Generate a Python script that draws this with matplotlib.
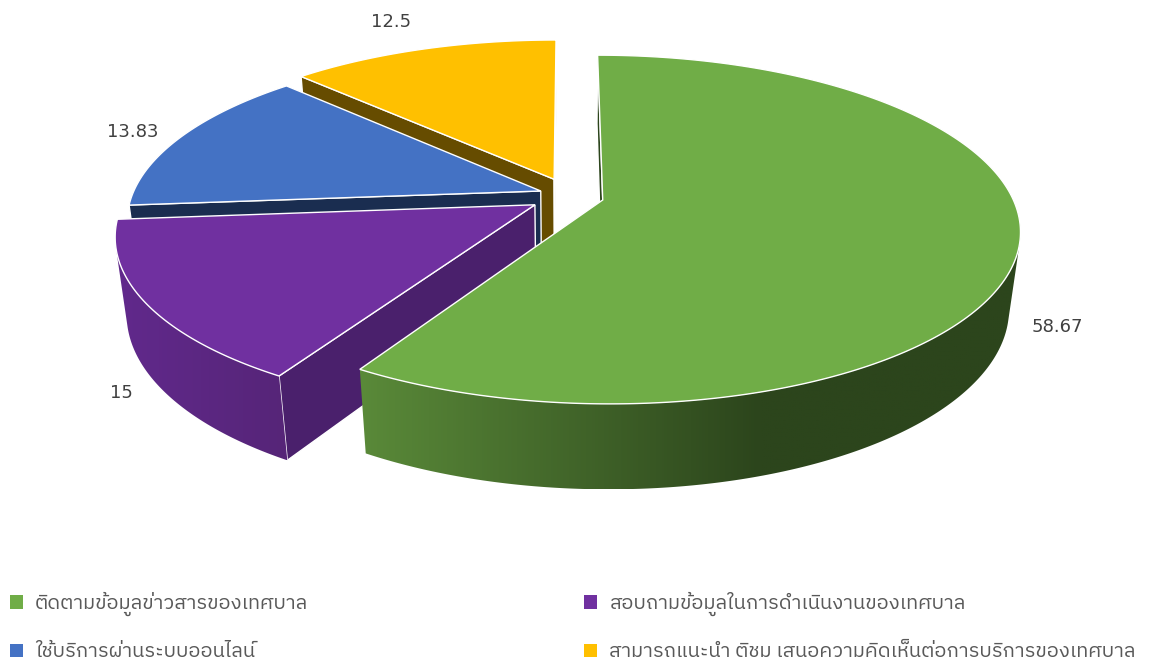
import numpy as np
import matplotlib
matplotlib.use('Agg')
import matplotlib.pyplot as plt
from matplotlib.colors import to_rgb
from matplotlib.patches import Patch, Polygon

# ---- data -----------------------------------------------------------
categories = ['ติดตามข้อมูลข่าวสารของเทศบาล',
              'สอบถามข้อมูลในการดำเนินงานของเทศบาล',
              'ใช้บริการผ่านระบบออนไลน์',
              'สามารถแนะนำ ติชม เสนอความคิดเห็นต่อการบริการของเทศบาล']
values = [58.67, 15, 13.83, 12.5]
value_labels = ['58.67', '15', '13.83', '12.5']
colors = ['#70AD47', '#7030A0', '#4472C4', '#FFC000']
arc_light = ['#5A8A39', '#61298C', '#1A2E52', '#664C00']
arc_dark = ['#2C451C', '#562578', '#1A2E52', '#664C00']
grad_range = [(359, 760), (116, 285), (0, 1), (0, 1)]
radial = ['#2C451C', '#4A206C', '#1A2D50', '#664C00']
shift = [(0.002, 0.0), (-0.005, -0.006), (0.016, 0.0), (0.0, 0.021)]

# ---- projection (perspective 3-D pie, pixel space) -------------------
CX, CY = 567.5, 196.0
FX, FY, DZ = 409.0, 168.0, 78.0
K, M = 0.169, 0.025
EXPLODE = 0.087


def project(x, y, z):
    w = 1 + K * y - M * z
    return CX + FX * x / w, CY - (FY * y + DZ * z) / w


def signed_area(quad):
    px, py = quad[:, 0], quad[:, 1]
    return 0.5 * np.sum(px * np.roll(py, -1) - np.roll(px, -1) * py)


fig = plt.figure(figsize=(11.5, 6.63), dpi=100)
ax = fig.add_axes([0, 0, 1, 1])

fractions = np.array(values) / np.sum(values)
ends = np.pi / 2 - 2 * np.pi * np.cumsum(fractions)
starts = np.r_[np.pi / 2, ends[:-1]]

for i in range(len(values) - 1, -1, -1):
    a0, a1 = starts[i], ends[i]
    mid = (a0 + a1) / 2
    ox = EXPLODE * np.cos(mid) + shift[i][0]
    oy = EXPLODE * np.sin(mid) + shift[i][1]
    t = np.linspace(a0, a1, 400)
    ax_, ay_ = ox + np.cos(t), oy + np.sin(t)
    top = np.c_[project(ax_, ay_, 0 * t)]
    bot = np.c_[project(ax_, ay_, -1 + 0 * t)]
    apex_t = np.array(project(ox, oy, 0))
    apex_b = np.array(project(ox, oy, -1))
    base = 10 + 3 * (3 - i)

    # radial side faces; only those turned to the viewer are painted
    for rim_t, rim_b, sign in ((top[0], bot[0], 1), (top[-1], bot[-1], -1)):
        quad = np.array([apex_t, rim_t, rim_b, apex_b])
        if signed_area(quad) * sign < 0:
            ax.add_patch(Polygon(quad, closed=True, facecolor=radial[i],
                                 edgecolor='white', lw=1.0, zorder=base))

    # outer rim with a left-to-right gradient, clipped to its visible part
    facing = np.array([signed_area(np.array([top[j], top[j + 1], bot[j + 1], bot[j]])) < 0
                       for j in range(len(t) - 1)])
    if facing.any():
        idx = np.flatnonzero(facing)
        j0, j1 = idx[0], idx[-1] + 2
        rim = np.vstack([top[j0:j1], bot[j0:j1][::-1]])
        x0, x1 = rim[:, 0].min(), rim[:, 0].max()
        y0, y1 = rim[:, 1].min(), rim[:, 1].max()
        xs = np.linspace(x0, x1, 500)
        s = np.clip((xs - grad_range[i][0]) / (grad_range[i][1] - grad_range[i][0]), 0, 1)[:, None]
        grad = np.array(to_rgb(arc_light[i])) * (1 - s) + np.array(to_rgb(arc_dark[i])) * s
        im = ax.imshow(grad[None, :, :], extent=(x0, x1, y1, y0), aspect='auto',
                       interpolation='bilinear', zorder=base + 1)
        im.set_clip_path(Polygon(rim, closed=True, transform=ax.transData))

    # top face
    ax.add_patch(Polygon(np.vstack([apex_t, top]), closed=True, facecolor=colors[i],
                         edgecolor='#FFFFFF', lw=1.0, zorder=base + 2))

ax.set_xlim(0, 1150)
ax.set_ylim(663, 0)
ax.axis('off')

# ---- data labels -----------------------------------------------------
label_xy = [(1057, 327), (121, 393), (133, 132), (391, 22)]
for lab, (x, y) in zip(value_labels, label_xy):
    ax.text(x, y, lab, ha='center', va='center', fontsize=13, color='#404040',
            family=['DejaVu Sans'], zorder=40)

# ---- legend (column-first fill gives the row order of the reference) --
order = [0, 2, 1, 3]
handles = [Patch(facecolor=colors[i], edgecolor='none') for i in order]
labels = [categories[i] for i in order]
fig.legend(handles, labels, ncol=2, loc='upper left', bbox_to_anchor=(10 / 1150, 1 - 592 / 663),
           frameon=False, labelcolor='#595959',
           prop={'family': ['IBM Plex Sans Thai', 'DejaVu Sans'], 'size': 14.5},
           handlelength=0.65, handleheight=0.65, handletextpad=0.6,
           columnspacing=13.7, labelspacing=1.3, borderpad=0, borderaxespad=0)

fig.savefig('out.png', dpi=100)
